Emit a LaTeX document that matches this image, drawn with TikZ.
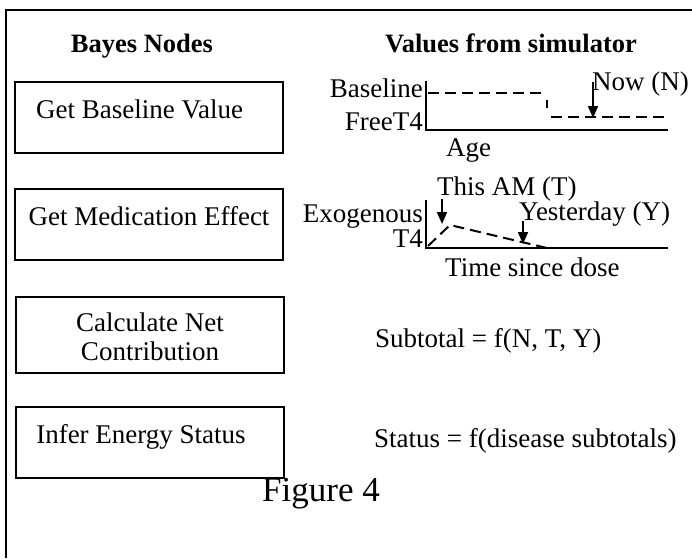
\documentclass[tikz,border=0pt]{standalone}
\usepackage{fontspec}
\setmainfont{Liberation Serif}
\usetikzlibrary{arrows.meta}
\begin{document}
\begin{tikzpicture}[x=1pt,y=-1pt,
  txt/.style={inner sep=0pt,anchor=base,font=\fontsize{27}{31}\selectfont},
  txtr/.style={txt,anchor=base east},
  txtl/.style={txt,anchor=base west},
  hdr/.style={inner sep=0pt,anchor=base,font=\fontsize{26.5}{30}\selectfont\bfseries},
  boxr/.style={draw,line width=2pt,inner sep=0pt},
  axis/.style={line width=2.4pt},
  dsh/.style={line width=2pt,dash pattern=on 11pt off 6pt},
  arr/.style={line width=1.8pt,-{Triangle[width=10pt,length=12pt]}}
]
\useasboundingbox (0,0) rectangle (692,558);
% frame
\draw[line width=2.2pt] (6,558) -- (6,10) -- (692,10);
% headers
\node[hdr] (h1) at (142,52) {Bayes Nodes};
\node[hdr] (h2) at (511,52) {Values from simulator};
% boxes
\node[boxr,minimum width=268pt,minimum height=71pt] (b1) at (149,117.5) {};
\node[boxr,minimum width=268pt,minimum height=71pt] (b2) at (149,224.5) {};
\node[boxr,minimum width=268pt,minimum height=76pt] (b3) at (150,335) {};
\node[boxr,minimum width=268pt,minimum height=71pt] (b4) at (150,442.5) {};
\node[txt] (t1) at (139.5,118) {Get Baseline Value};
\node[txt] (t2) at (149,225) {Get Medication Effect};
\node[txt] (t3a) at (150,331) {Calculate Net};
\node[txt] (t3b) at (150,360.5) {Contribution};
\node[txt] (t4) at (141,443) {Infer Energy Status};
% graph 1
\coordinate (g1o) at (426,130);
\coordinate (g1t) at (426,81);
\coordinate (g1e) at (668,130);
\draw[axis] (g1t) -- (g1o) -- (g1e);
\coordinate (u1) at (428,93);
\coordinate (u2) at (547,93);
\coordinate (s1) at (547,100);
\coordinate (s2) at (547,108);
\coordinate (l1) at (551,117);
\coordinate (l2) at (668,117);
\draw[dsh] (u1) -- (u2);
\draw[line width=2pt] (s1) -- (s2);
\draw[dsh] (l1) -- (l2);
\coordinate (n1) at (593,82);
\coordinate (n2) at (593,118);
\draw[arr] (n1) -- (n2);
\node[txtl] (now) at (592,90) {Now (N)};
\node[txtr] (bl) at (423,97) {Baseline};
\node[txtr] (ft) at (423,130) {FreeT4};
\node[txtl] (age) at (446,156) {Age};
% graph 2
\coordinate (g2o) at (426,248);
\coordinate (g2t) at (426,200);
\coordinate (g2e) at (668,248);
\draw[axis] (g2t) -- (g2o) -- (g2e);
\coordinate (p1) at (428,246);
\coordinate (p2) at (450,225);
\coordinate (p3) at (547,248);
\draw[dsh] (p1) -- (p2) -- (p3);
\coordinate (ta1) at (442,199);
\coordinate (ta2) at (442,224);
\draw[arr] (ta1) -- (ta2);
\coordinate (y1) at (523,221);
\coordinate (y2) at (523,244);
\draw[arr] (y1) -- (y2);
\node[txtl] (am) at (437,195) {This AM (T)};
\node[txtl] (yd) at (519,220) {Yesterday (Y)};
\node[txtr] (ex) at (423,222) {Exogenous};
\node[txtr] (t4l) at (423,247) {T4};
\node[txtl] (tsd) at (445,276) {Time since dose};
% formulas
\node[txtl] (sub) at (375,347) {Subtotal = f(N, T, Y)};
\node[txtl] (st) at (374,447) {Status = f(disease subtotals)};
% caption
\node[inner sep=0pt,anchor=base,font=\fontsize{35}{40}\selectfont] (fig) at (321,501) {Figure 4};
\end{tikzpicture}
\end{document}
